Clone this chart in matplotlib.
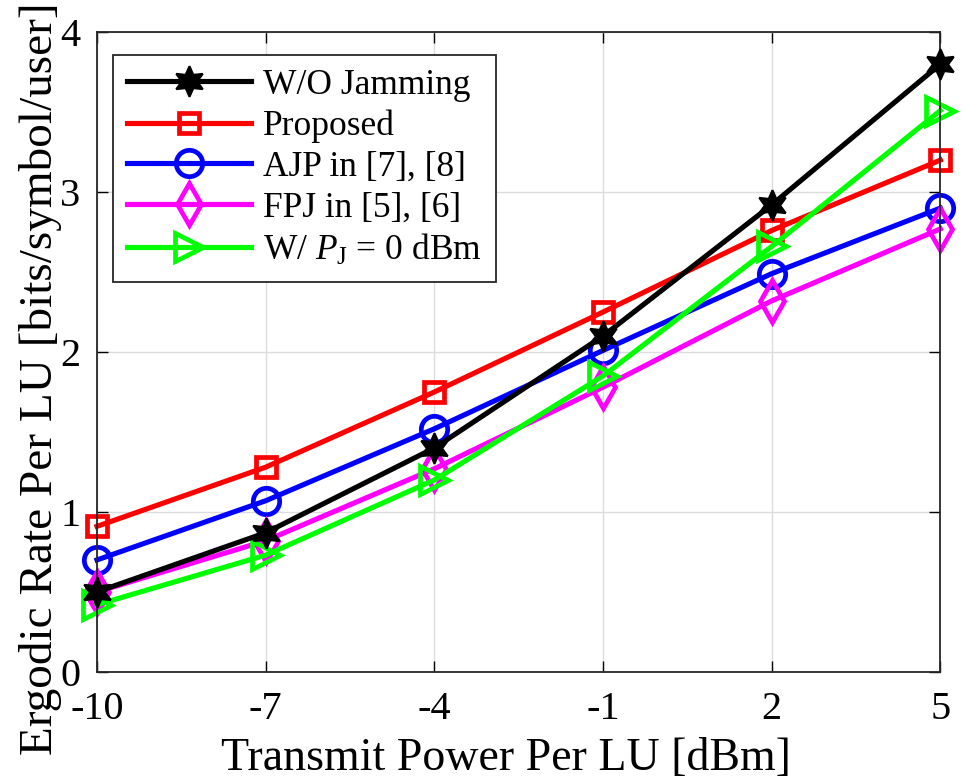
import matplotlib.pyplot as plt
import numpy as np

plt.rcParams['font.family'] = ['Liberation Serif', 'DejaVu Serif']
plt.rcParams['mathtext.fontset'] = 'custom'
plt.rcParams['mathtext.it'] = 'Liberation Serif:italic'
plt.rcParams['mathtext.rm'] = 'Liberation Serif'

power = [-10, -7, -4, -1, 2, 5]
wo_jamming = [0.50, 0.87, 1.40, 2.10, 2.92, 3.80]
proposed = [0.91, 1.28, 1.75, 2.25, 2.76, 3.20]
ajp = [0.70, 1.07, 1.52, 2.01, 2.49, 2.90]
fpj = [0.50, 0.82, 1.27, 1.78, 2.32, 2.77]
pj_zero = [0.42, 0.73, 1.20, 1.85, 2.66, 3.51]

fig = plt.figure(figsize=(9.65, 7.84), dpi=100)
ax = fig.add_axes([0.1005, 0.143, 0.874, 0.816])

lw = 3.7
mew = 3.4
ax.plot(power, wo_jamming, color='k', lw=lw, marker=(6, 1, 0), ms=22,
        mfc='k', mec='k', mew=1.5, label='W/O Jamming', zorder=5, clip_on=False)
ax.plot(power, proposed, color='r', lw=lw, marker='s', ms=15,
        mfc='none', mec='r', mew=mew, label='Proposed', clip_on=False)
ax.plot(power, ajp, color='b', lw=lw, marker='o', ms=19,
        mfc='none', mec='b', mew=mew, label='AJP in [7], [8]', clip_on=False)
ax.plot(power, fpj, color=(1, 0, 1), lw=lw, marker='d', ms=21,
        mfc='none', mec=(1, 0, 1), mew=mew, label='FPJ in [5], [6]', clip_on=False)
ax.plot(power, pj_zero, color=(0, 1, 0), lw=lw, marker='>', ms=20,
        mfc='none', mec=(0, 1, 0), mew=mew, label=r'W/ $P_{\rm J}$ = 0 dBm', clip_on=False)

ax.set_xlim(-10, 5)
ax.set_ylim(0, 4)
ax.set_xticks(power)
ax.set_xticklabels([str(p) for p in power])
ax.set_yticks(np.arange(0, 5, 1))
ax.tick_params(direction='in', labelsize=29, length=8, width=1, top=True, right=True,
               labeltop=False, labelright=False)
ax.tick_params(axis='x', pad=14)
ax.tick_params(axis='y', pad=12)
ax.grid(True, color='#dcdcdc', lw=1)
ax.set_axisbelow(True)
for s in ax.spines.values():
    s.set_linewidth(1.3)
    s.set_color('#262626')

ax.set_xlabel('Transmit Power Per LU [dBm]', fontsize=33)
ax.set_ylabel('Ergodic Rate Per LU [bits/symbol/user]', fontsize=34)
ax.xaxis.set_label_coords(0.485, -0.103)
ax.yaxis.set_label_coords(-0.042, 0.458)

leg = ax.legend(loc='upper left', prop={'family': 'Liberation Serif', 'size': 25.5},
                handlelength=3.5, handletextpad=0.34, labelspacing=0.22,
                borderpad=0.4, borderaxespad=0, fancybox=False, framealpha=1,
                edgecolor='#262626', bbox_to_anchor=(0.019, 0.965))
leg.get_frame().set_linewidth(1.3)
leg.set_zorder(10)

fig.savefig('out.png', dpi=100)
